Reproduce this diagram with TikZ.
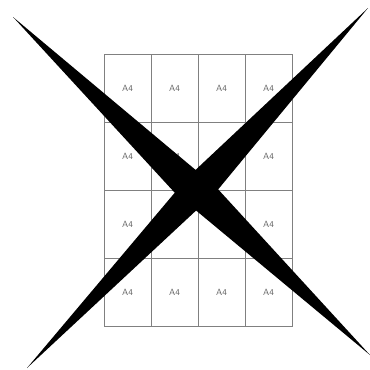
\documentclass[tikz,border=0pt]{standalone}
\usepackage{tikz}
\usetikzlibrary{positioning}
\definecolor{gridgray}{gray}{0.5}
\definecolor{textgray}{gray}{0.4}

\begin{document}
\begin{tikzpicture}[x=1pt, y=-1pt,
    sheet/.style={rectangle, draw=gridgray, line width=0.7pt, inner sep=0pt,
                 minimum width=47pt, minimum height=68pt, text=textgray,
                 font=\fontsize{9}{10}\selectfont\sffamily},
    cross/.style={fill=black}
]
    \useasboundingbox (0,0) rectangle (370,370);
    \foreach \r in {0,...,3}{
        \foreach \c in {0,...,3}{
            \node[sheet] (a4-\r-\c) at ({127.5+47*\c},{88+68*\r}) {A4};
        }
    }
    % the two tapered bars of the X
    \fill[cross] (13,17) -- (216,187) -- (370,355) -- (175,193) -- cycle;
    \fill[cross] (368,8) -- (188,177) -- (27,368) -- (216,192) -- cycle;
\end{tikzpicture}
\end{document}
